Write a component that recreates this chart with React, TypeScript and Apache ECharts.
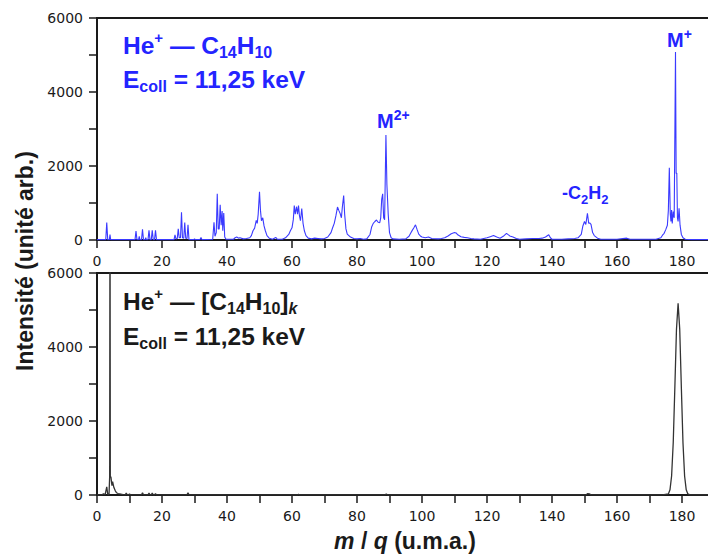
import React, { useEffect, useRef } from 'react';
import * as echarts from 'echarts';

// m/q (u.m.a.) , intensity — He+ on C14H10 (monomer)
const topSpectrum: [number, number][] = [
  [0, 10], [2.7, 10], [3, 470], [3.3, 10], [3.8, 10], [4, 150], [4.2, 10],
  [11.7, 10], [12, 240], [12.3, 10], [12.8, 10], [13, 100], [13.2, 10], [13.7, 10], [14, 290], [14.3, 10],
  [14.8, 10], [15, 60], [15.2, 10], [15.7, 10], [16, 265], [16.3, 10], [16.7, 10], [17, 265], [17.3, 10],
  [17.7, 10], [18, 260], [18.3, 10],
  [23.7, 10], [24, 140], [24.3, 30], [24.7, 40], [25, 300], [25.3, 60], [25.7, 60], [26, 750], [26.3, 60],
  [26.7, 50], [27, 470], [27.3, 50], [27.7, 40], [28, 410], [28.3, 10],
  [29.8, 10], [30, 30], [30.3, 10], [31.7, 15], [32, 70], [32.3, 10],
  [35.6, 20], [36, 480], [36.3, 100], [36.7, 200], [37, 1250], [37.3, 300], [37.6, 300], [37.9, 950],
  [38.2, 400], [38.5, 780], [38.7, 250], [39, 730], [39.3, 80], [39.7, 20],
  [42, 20], [42.5, 60], [43, 80], [43.5, 50], [44, 60], [45, 30], [46, 40],
  [47, 60], [47.5, 120], [48, 250], [48.5, 320], [49, 530], [49.3, 450], [49.6, 700], [50, 1300],
  [50.3, 800], [50.6, 520], [51, 600], [51.4, 380], [51.8, 250], [52.3, 120], [53, 50], [54, 20],
  [55, 70], [55.5, 20],
  [57, 20], [58, 60], [59, 150], [59.5, 250], [60, 330], [60.4, 550], [60.7, 930], [61, 700], [61.4, 900],
  [61.7, 700], [62, 930], [62.3, 650], [62.6, 520], [63, 850], [63.4, 450], [63.8, 250], [64.3, 120],
  [65, 50], [66, 30], [67, 50], [68, 40], [69, 30], [70, 40],
  [71, 80], [72, 200], [72.5, 330], [73, 450], [73.5, 650], [74, 890], [74.4, 800], [74.8, 720],
  [75.2, 600], [75.5, 900], [75.9, 1200], [76.2, 700], [76.6, 300], [77, 160], [78, 80], [79, 40],
  [80, 30], [81, 40], [82, 20], [83, 30],
  [84, 150], [84.5, 350], [85, 450], [85.5, 500], [86, 540], [86.5, 480], [87, 470], [87.3, 600],
  [87.6, 1100], [87.9, 1250], [88.2, 600], [88.5, 550], [88.9, 2840], [89.2, 1500], [89.6, 700],
  [90, 200], [90.5, 60], [91, 30], [93, 20], [95, 30],
  [96, 100], [96.5, 180], [97, 260], [97.5, 330], [98, 410], [98.5, 280], [99, 160], [99.5, 110],
  [100, 80], [101, 60], [102, 80], [103, 40], [105, 30], [106, 40],
  [107, 60], [108, 110], [109, 170], [110, 200], [110.5, 190], [111, 140], [112, 90], [113, 70],
  [114, 60], [115, 40], [116, 30], [118, 20], [120, 60], [121, 90], [122, 120], [123, 80], [124, 50],
  [125, 100], [126, 180], [127, 110], [128, 80], [129, 40], [130, 20], [132, 30], [134, 40], [136, 40],
  [137, 50], [138, 80], [139, 140], [139.5, 60], [140, 20], [143, 20], [145, 30], [147, 40],
  [148, 60], [149, 150], [149.5, 380], [150, 500], [150.4, 420], [150.9, 720], [151.3, 450], [151.6, 460],
  [152, 420], [152.5, 200], [153, 120], [154, 50], [155, 20], [160, 20], [163, 50], [164, 20], [170, 20],
  [172, 20],
  [173.5, 60], [174, 130], [174.5, 180], [175, 280], [175.5, 400], [175.8, 800], [176.1, 1950], [176.4, 700],
  [176.6, 500], [176.8, 810], [177, 450], [177.3, 770], [177.6, 600], [178, 5080], [178.2, 1800],
  [178.4, 1810], [178.6, 600], [178.8, 500], [179.1, 860], [179.4, 400], [179.8, 150], [180.3, 60],
  [181, 20], [183, 10], [188, 10],
];

// He+ on clusters [C14H10]k
const bottomSpectrum: [number, number][] = [
  [0, 5], [1.5, 5], [2, 30], [2.5, 10], [3, 220], [3.3, 20], [3.7, 20], [3.9, 500], [4, 9000], [4.1, 500],
  [4.3, 480], [4.6, 250], [4.8, 360], [5.2, 200], [5.6, 120], [6, 60], [6.5, 40], [7, 30], [8, 10],
  [8.7, 5], [9, 50], [9.3, 5], [9.7, 5], [10, 30], [10.3, 5], [13.7, 5], [14, 60], [14.3, 5],
  [15.7, 5], [16, 50], [16.3, 5], [16.7, 5], [17, 50], [17.3, 5], [17.7, 5], [18, 40], [18.3, 5],
  [27.7, 5], [28, 60], [28.3, 5], [61.7, 5], [62, 20], [62.3, 5], [88.7, 5], [89, 30], [89.3, 5],
  [150.5, 5], [151, 40], [151.5, 30], [152, 5],
  [174, 5], [175.8, 28], [176.3, 140], [176.8, 513], [177.3, 1410], [177.8, 2905], [178.3, 4480],
  [178.8, 5180], [179.3, 4480], [179.8, 2905], [180.3, 1410], [180.8, 513], [181.3, 140], [181.8, 28],
  [182.5, 5], [188, 5],
];

const xLabelValues = [0, 20, 40, 60, 80, 100, 120, 140, 160, 180];
const yLabelValues = [0, 2000, 4000, 6000];

const BLUE_TEXT = '#2424ff';
const BLUE_LINE = '#3a3aff';
const INK = '#1a1a1a';
const ANN_FONT = '"Liberation Sans", Arial, sans-serif';
const TICK_FONT = '"DejaVu Sans", Verdana, sans-serif';

function annRich(color: string) {
  return {
    b: { fontSize: 24.5, fontWeight: 'bold', fontFamily: ANN_FONT, fill: color, lineHeight: 30 },
    sup: { fontSize: 15, fontWeight: 'bold', fontFamily: ANN_FONT, fill: color, lineHeight: 22, verticalAlign: 'top' },
    sub: { fontSize: 16, fontWeight: 'bold', fontFamily: ANN_FONT, fill: color, lineHeight: 14, verticalAlign: 'bottom' },
    subi: { fontSize: 16, fontWeight: 'bold', fontStyle: 'italic', fontFamily: ANN_FONT, fill: color, lineHeight: 14, verticalAlign: 'bottom' },
  };
}

function peakRich(size: number) {
  return {
    m: { fontSize: size, fontWeight: 'bold', fontFamily: ANN_FONT, fill: BLUE_TEXT, lineHeight: 26 },
    sup: { fontSize: 14, fontWeight: 'bold', fontFamily: ANN_FONT, fill: BLUE_TEXT, lineHeight: 18, verticalAlign: 'top' },
    sub: { fontSize: 13, fontWeight: 'bold', fontFamily: ANN_FONT, fill: BLUE_TEXT, lineHeight: 14, verticalAlign: 'bottom' },
  };
}

function textEl(x: number, y: number, text: string, rich: any) {
  return {
    type: 'text',
    x,
    y,
    z: 100,
    style: { text, rich, align: 'left', verticalAlign: 'middle' },
  };
}

export default function App() {
  const ref = useRef<HTMLDivElement>(null);
  useEffect(() => {
    if (!ref.current) return;
    const chart = echarts.init(ref.current, null, { renderer: 'svg' });

    const makeX = (i: number) => ({
      type: 'value',
      gridIndex: i,
      min: 0,
      max: 190,
      interval: 10,
      axisLine: { show: true, onZero: false, lineStyle: { color: INK, width: 2 } },
      axisTick: { show: true, length: 8, lineStyle: { color: INK, width: 1.5 } },
      axisLabel: {
        margin: 14,
        fontSize: 14,
        fontFamily: TICK_FONT,
        color: INK,
        formatter: (v: number) => (xLabelValues.includes(v) ? String(v) : ''),
      },
      splitLine: { show: false },
    });
    const makeY = (i: number) => ({
      type: 'value',
      gridIndex: i,
      min: 0,
      max: 6000,
      interval: 1000,
      axisLine: { show: true, lineStyle: { color: INK, width: 2 } },
      axisTick: { show: true, length: 8, lineStyle: { color: INK, width: 1.5 } },
      axisLabel: {
        margin: 14,
        fontSize: 14,
        fontFamily: TICK_FONT,
        color: INK,
        formatter: (v: number) => (yLabelValues.includes(v) ? String(v) : ''),
      },
      splitLine: { show: false },
    });

    const gridBase = {
      left: 97, width: 617.5, height: 222, show: true, borderColor: INK, borderWidth: 2,
      backgroundColor: 'transparent', containLabel: false, outerBoundsMode: 'none',
    };

    const option: any = {
      animation: false,
      backgroundColor: '#ffffff',
      grid: [
        { ...gridBase, top: 18 },
        { ...gridBase, top: 273 },
      ],
      xAxis: [makeX(0), makeX(1)],
      yAxis: [makeY(0), makeY(1)],
      series: [
        {
          type: 'line', xAxisIndex: 0, yAxisIndex: 0, data: topSpectrum, symbol: 'none', showSymbol: false,
          lineStyle: { color: BLUE_LINE, width: 1.1 }, clip: true,
        },
        {
          type: 'line', xAxisIndex: 1, yAxisIndex: 1, data: bottomSpectrum, symbol: 'none', showSymbol: false,
          lineStyle: { color: '#333333', width: 1.3 }, clip: true,
        },
      ],
      graphic: [
        textEl(123, 45, '{b|He}{sup|+}{b| \u2014 C}{sub|14}{b|H}{sub|10}', annRich(BLUE_TEXT)),
        textEl(123, 79.5, '{b|E}{sub|coll}{b| = 11,25 keV}', annRich(BLUE_TEXT)),
        textEl(123, 301, '{b|He}{sup|+}{b| \u2014 [C}{sub|14}{b|H}{sub|10}{b|]}{subi|k}', annRich(INK)),
        textEl(123, 336, '{b|E}{sub|coll}{b| = 11,25 keV}', annRich(INK)),
        textEl(377, 121, '{m|M}{sup|2+}', peakRich(20)),
        textEl(667, 40, '{m|M}{sup|+}', peakRich(20)),
        textEl(562, 192.5, '{m|-C}{sub|2}{m|H}{sub|2}', peakRich(18)),
        {
          type: 'text', x: 405, y: 541, z: 100,
          style: {
            text: '{i|m}{n| / }{i|q}{n| (u.m.a.)}',
            align: 'center', verticalAlign: 'middle',
            rich: {
              i: { fontSize: 23, fontWeight: 'bold', fontStyle: 'italic', fontFamily: ANN_FONT, fill: INK },
              n: { fontSize: 23, fontWeight: 'bold', fontFamily: ANN_FONT, fill: INK },
            },
          },
        },
        {
          type: 'text', x: 25, y: 261, z: 100, rotation: Math.PI / 2,
          style: {
            text: 'Intensit\u00e9 (unit\u00e9 arb.)',
            align: 'center', verticalAlign: 'middle',
            fontSize: 23, fontWeight: 'bold', fontFamily: ANN_FONT, fill: INK,
          },
        },
      ],
    };
    chart.setOption(option);
    return () => chart.dispose();
  }, []);

  return <div ref={ref} style={{ position: 'absolute', left: 0, top: 0, width: 708, height: 558 }} />;
}
